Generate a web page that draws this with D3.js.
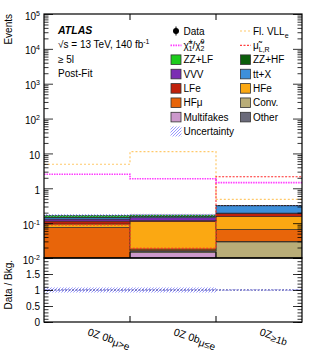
<!DOCTYPE html>
<html>
<head>
<meta charset="utf-8">
<script src="https://cdn.jsdelivr.net/npm/d3@7"></script>
<style>
  body { margin: 0; background: #fff; }
  svg text { font-family: "Liberation Sans", Arial, sans-serif; fill: #000; }
</style>
</head>
<body>
<svg id="chart" width="319" height="359"></svg>
<script>
// regions (x categories)
const bins = ["0Z 0b μ>e", "0Z 0b μ≤e", "0Z ≥1b"];
const binMain = ["0Z 0b", "0Z 0b", "0Z"];
const binSub = ["μ>e", "μ≤e", "≥1b"];

// backgrounds, stacked bottom -> top
const multifakes = [0.002, 0.0142, 0.001];
const conv       = [0.002, 0.001, 0.028];
const other      = [0.001, 0.001, 0.001];
const hfmu       = [0.071, 0.0019, 0.0365];
const hfe        = [0.0185, 0.092, 0.087];
const lfe        = [0.020, 0.008, 0.038];
const vvv        = [0.0165, 0.025, 0.003];
const ttx        = [0.016, 0.010, 0.120];
const zzhf       = [0.002, 0.002, 0.002];
const zzlf       = [0.019, 0.016, 0.002];

// relative uncertainty of total background
const uncert = [0.08, 0.08, 0.02];

// signals
const vllE  = [4.9, 11.2, 0.48];
const chi   = [2.52, 1.88, 1.45];
const muLR  = [0.0885, 0.019, 2.15];

const yTickVals = [1e-2, 1e-1, 1, 10, 1e2, 1e3, 1e4, 1e5];
const ratioTicks = [0, 0.5, 1, 1.5, 2];

const bkgKeys = ["Multifakes", "Conv.", "Other", "HFμ", "HFe", "LFe", "VVV", "tt+X", "ZZ+HF", "ZZ+LF"];
const bkgVals = [multifakes, conv, other, hfmu, hfe, lfe, vvv, ttx, zzhf, zzlf];
const colors = {
  "ZZ+LF": "#1ccc1c", "ZZ+HF": "#0b5f0b", "VVV": "#7b2db3", "tt+X": "#3d8fda",
  "LFe": "#c0210b", "HFe": "#fba812", "HFμ": "#e8650a", "Conv.": "#b9ad78",
  "Multifakes": "#cc99cc", "Other": "#6a6a7a"
};

const table = bins.map((b, i) => {
  const row = { bin: b };
  bkgKeys.forEach((k, j) => row[k] = bkgVals[j][i]);
  return row;
});
const totals = table.map(r => d3.sum(bkgKeys, k => r[k]));

const svg = d3.select("#chart");
const pLeft = 44, pRight = 302, pTop = 14, pMid = 258, pBottom = 322;

const x = d3.scaleBand().domain(bins).range([pLeft, pRight]).padding(0);
const y = d3.scaleLog().domain([1e-2, 1e5]).range([pMid, pTop]).clamp(true);
const yr = d3.scaleLinear().domain([0, 2]).range([pBottom, pMid]);

// hatch pattern
const defs = svg.append("defs");
const pat = defs.append("pattern").attr("id", "hatch")
  .attr("patternUnits", "userSpaceOnUse").attr("width", 3).attr("height", 3);
pat.append("path").attr("d", "M-1,4 L4,-1 M-1,1 L1,-1 M2,4 L4,2")
  .attr("stroke", "#7f7fff").attr("stroke-width", 0.8);
defs.append("clipPath").attr("id", "mainclip").append("rect")
  .attr("x", pLeft).attr("y", pTop).attr("width", pRight - pLeft).attr("height", pMid - pTop);

// stacked backgrounds
const series = d3.stack().keys(bkgKeys)(table);
const gMain = svg.append("g").attr("clip-path", "url(#mainclip)");
series.forEach(s => {
  gMain.selectAll(null).data(s).enter().append("rect")
    .attr("x", d => x(d.data.bin))
    .attr("width", x.bandwidth())
    .attr("y", d => y(d[1]))
    .attr("height", d => Math.max(0, y(Math.max(d[0], 1e-3)) - y(d[1])))
    .attr("fill", colors[s.key])
    .attr("stroke", "#2a2a2a").attr("stroke-width", 0.6);
});

// uncertainty band
gMain.selectAll(null).data(table).enter().append("rect")
  .attr("x", d => x(d.bin)).attr("width", x.bandwidth())
  .attr("y", (d, i) => y(totals[i] * (1 + uncert[i])))
  .attr("height", (d, i) => y(totals[i] * (1 - uncert[i])) - y(totals[i] * (1 + uncert[i])))
  .attr("fill", "url(#hatch)");

// signal step lines
function stepLine(vals, scaleY) {
  const pts = bins.map((b, i) => [x(b), scaleY(vals[i])]);
  pts.push([pRight, scaleY(vals[vals.length - 1])]);
  return d3.line().curve(d3.curveStepAfter)(pts);
}
gMain.append("path").attr("d", stepLine(vllE, y)).attr("fill", "none")
  .attr("stroke", "#ffc96b").attr("stroke-width", 1.2).attr("stroke-dasharray", "2,2");
gMain.append("path").attr("d", stepLine(muLR, y)).attr("fill", "none")
  .attr("stroke", "#ff2a2a").attr("stroke-width", 1.1).attr("stroke-dasharray", "2,1.5");
gMain.append("path").attr("d", stepLine(chi, y)).attr("fill", "none")
  .attr("stroke", "#ff3cff").attr("stroke-width", 1.6).attr("stroke-dasharray", "1.5,1");

// ratio panel
const gRatio = svg.append("g");
gRatio.selectAll(null).data(table).enter().append("rect")
  .attr("x", d => x(d.bin)).attr("width", x.bandwidth())
  .attr("y", (d, i) => yr(1 + uncert[i]))
  .attr("height", (d, i) => yr(1 - uncert[i]) - yr(1 + uncert[i]))
  .attr("fill", "url(#hatch)");
gRatio.append("line").attr("x1", pLeft).attr("x2", pRight)
  .attr("y1", yr(1)).attr("y2", yr(1))
  .attr("stroke", "#3a3a9a").attr("stroke-width", 1).attr("stroke-dasharray", "2,1.5");

// axes
function superLabel(sel, fmt) {
  sel.selectAll(".tick text").each(function (d) {
    const t = d3.select(this);
    t.text(null);
    const f = fmt(d);
    if (!f) return;
    t.append("tspan").text(f[0]);
    if (f[1]) t.append("tspan").attr("dy", -4).attr("font-size", 7).text(f[1]);
  });
}
const yFmt = d => {
  const e = Math.round(Math.log10(d));
  if (e === 0) return ["1"];
  if (e === 1) return ["10"];
  return ["10", String(e)];
};
const minorLog = [];
for (let e = -2; e < 5; e++) for (let m = 2; m <= 9; m++) minorLog.push(m * Math.pow(10, e));

const axL = svg.append("g").attr("transform", `translate(${pLeft},0)`)
  .call(d3.axisLeft(y).tickValues(yTickVals).tickSizeInner(-9).tickSizeOuter(0).tickPadding(4));
superLabel(axL, yFmt);
axL.selectAll(".tick text").attr("font-size", 10).attr("dy", "0.5em");
svg.append("g").attr("transform", `translate(${pLeft},0)`)
  .call(d3.axisLeft(y).tickValues(minorLog).tickSizeInner(-4.5).tickSizeOuter(0).tickFormat(""));
svg.append("g").attr("transform", `translate(${pRight},0)`)
  .call(d3.axisRight(y).tickValues(yTickVals).tickSizeInner(-9).tickSizeOuter(0).tickFormat(""));
svg.append("g").attr("transform", `translate(${pRight},0)`)
  .call(d3.axisRight(y).tickValues(minorLog).tickSizeInner(-4.5).tickSizeOuter(0).tickFormat(""));

const axR = svg.append("g").attr("transform", `translate(${pLeft},0)`)
  .call(d3.axisLeft(yr).tickValues(ratioTicks.slice(0, 4)).tickSizeInner(-9).tickSizeOuter(0).tickPadding(4)
    .tickFormat(d => d3.format("~g")(d)));
axR.selectAll(".tick text").attr("font-size", 10);
const minorR = d3.range(0, 2.0001, 0.1);
svg.append("g").attr("transform", `translate(${pLeft},0)`)
  .call(d3.axisLeft(yr).tickValues(minorR).tickSizeInner(-4.5).tickSizeOuter(0).tickFormat(""));
svg.append("g").attr("transform", `translate(${pRight},0)`)
  .call(d3.axisRight(yr).tickValues(ratioTicks).tickSizeInner(-9).tickSizeOuter(0).tickFormat(""));
svg.append("g").attr("transform", `translate(${pRight},0)`)
  .call(d3.axisRight(yr).tickValues(minorR).tickSizeInner(-4.5).tickSizeOuter(0).tickFormat(""));

// x ticks at bin edges
const edges = bins.slice(1).map(b => x(b));
[[pTop, 6], [pMid, -6], [pBottom, -6]].forEach(([yy, len]) => {
  svg.append("g").selectAll(null).data(edges).enter().append("line")
    .attr("x1", d => d).attr("x2", d => d).attr("y1", yy).attr("y2", yy + len)
    .attr("stroke", "#000").attr("stroke-width", 1);
});

svg.selectAll(".domain").remove();
svg.selectAll(".tick line").attr("stroke", "#000").attr("stroke-width", 0.8);

// frames
svg.append("rect").attr("x", pLeft).attr("y", pTop).attr("width", pRight - pLeft).attr("height", pMid - pTop)
  .attr("fill", "none").attr("stroke", "#000").attr("stroke-width", 1.2);
svg.append("rect").attr("x", pLeft).attr("y", pMid).attr("width", pRight - pLeft).attr("height", pBottom - pMid)
  .attr("fill", "none").attr("stroke", "#000").attr("stroke-width", 1.2);

// x labels
bins.forEach((b, i) => {
  const t = svg.append("text")
    .attr("transform", `translate(${x(b) + x.bandwidth() / 2},335) rotate(18)`)
    .attr("font-size", 10.5).attr("text-anchor", "start");
  t.append("tspan").text(binMain[i]);
  t.append("tspan").attr("dy", 2).attr("font-size", 10).text(binSub[i]);
});

// axis titles
svg.append("text").attr("transform", `translate(12,${pTop}) rotate(-90)`)
  .attr("text-anchor", "end").attr("font-size", 10).text("Events");
svg.append("text").attr("transform", `translate(12,${pMid + 2}) rotate(-90)`)
  .attr("text-anchor", "end").attr("font-size", 10).text("Data / Bkg.");

// ATLAS labels
svg.append("text").attr("x", 58).attr("y", 33.5).attr("font-size", 10.5)
  .attr("font-weight", "bold").attr("font-style", "italic").text("ATLAS");
const l2 = svg.append("text").attr("x", 58).attr("y", 48).attr("font-size", 10);
l2.append("tspan").text("√s = 13 TeV, 140 fb");
l2.append("tspan").attr("dy", -4).attr("font-size", 7).text("-1");
svg.append("text").attr("x", 58).attr("y", 62.5).attr("font-size", 10).text("≥ 5l");
svg.append("text").attr("x", 58).attr("y", 77).attr("font-size", 10).text("Post-Fit");

// legend
const legendLeft = ["Data", "chi", "ZZ+LF", "VVV", "LFe", "HFμ", "Multifakes", "Uncertainty"];
const legendRight = ["Fl. VLL", "mu", "ZZ+HF", "tt+X", "HFe", "Conv.", "Other"];
const rowY = i => 31 + i * 14.35;
function legendItem(key, i, bx) {
  const yc = rowY(i);
  const g = svg.append("g");
  const tx = bx + 13;
  if (key === "Data") {
    g.append("line").attr("x1", bx + 5.5).attr("x2", bx + 5.5).attr("y1", yc - 4.5).attr("y2", yc + 4.5)
      .attr("stroke", "#000").attr("stroke-width", 1);
    g.append("circle").attr("cx", bx + 5.5).attr("cy", yc).attr("r", 3).attr("fill", "#000");
    g.append("text").attr("x", tx).attr("y", yc + 3.6).attr("font-size", 10).text("Data");
  } else if (key === "chi" || key === "Fl. VLL" || key === "mu") {
    const st = key === "chi" ? ["#ff3cff", "1.5,1", 1.6] : key === "mu" ? ["#ff4040", "2,1.5", 1.3] : ["#ffc96b", "2,2", 1.2];
    g.append("line").attr("x1", bx).attr("x2", bx + 11).attr("y1", yc).attr("y2", yc)
      .attr("stroke", st[0]).attr("stroke-dasharray", st[1]).attr("stroke-width", st[2]);
    const t = g.append("text").attr("x", tx).attr("y", yc + 3.6).attr("font-size", 10);
    if (key === "chi") {
      t.append("tspan").text("χ̃");
      t.append("tspan").attr("dy", -4.5).attr("font-size", 7).text("±");
      t.append("tspan").attr("dx", -4).attr("dy", 7).attr("font-size", 7).text("1");
      t.append("tspan").attr("dy", -2.5).text("/χ̃");
      t.append("tspan").attr("dy", -4.5).attr("font-size", 7).text("0");
      t.append("tspan").attr("dx", -4).attr("dy", 7).attr("font-size", 7).text("2");
    } else if (key === "mu") {
      t.append("tspan").text("μ̃");
      t.append("tspan").attr("dy", 3).attr("font-size", 7).text("L,R");
    } else {
      t.append("tspan").text("Fl. VLL");
      t.append("tspan").attr("dy", 3).attr("font-size", 7).text("e");
    }
  } else if (key === "Uncertainty") {
    g.append("rect").attr("x", bx).attr("y", yc - 5).attr("width", 11).attr("height", 10).attr("fill", "url(#hatch)");
    g.append("text").attr("x", tx).attr("y", yc + 3.6).attr("font-size", 10).text(key);
  } else {
    g.append("rect").attr("x", bx + 0.5).attr("y", yc - 4.8).attr("width", 10).attr("height", 9.6)
      .attr("fill", colors[key]).attr("stroke", "#333").attr("stroke-width", 0.8);
    g.append("text").attr("x", tx).attr("y", yc + 3.6).attr("font-size", 10).text(key);
  }
}
legendLeft.forEach((k, i) => legendItem(k, i, 170.5));
legendRight.forEach((k, i) => legendItem(k, i, 240));
</script>
</body>
</html>
